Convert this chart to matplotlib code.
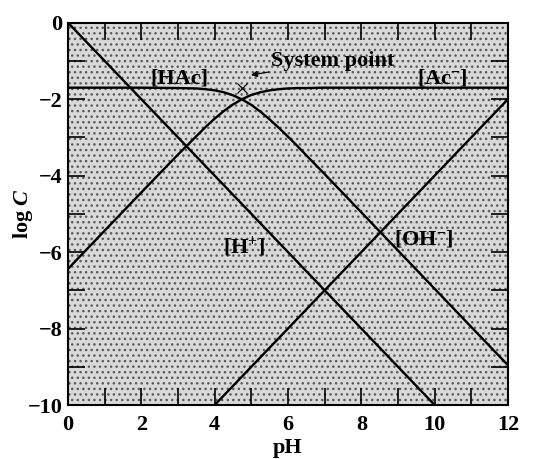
import matplotlib
matplotlib.use("Agg")
import matplotlib.pyplot as plt
from matplotlib.patches import Rectangle

plt.rcParams['font.family'] = ['Liberation Serif', 'DejaVu Serif']
plt.rcParams['font.weight'] = 'bold'
plt.rcParams['mathtext.fontset'] = 'custom'
plt.rcParams['mathtext.rm'] = 'Liberation Serif:bold'
plt.rcParams['mathtext.bf'] = 'Liberation Serif:bold'
plt.rcParams['mathtext.it'] = 'Liberation Serif:italic:bold'

# values
ph_pts = [0, 1, 2, 3, 3.5, 3.75, 4, 4.25, 4.5, 4.75, 5, 5.25, 5.5, 5.75, 6, 6.25, 6.5, 7, 8, 9, 10, 11, 12]
hac_log = [-1.70, -1.70, -1.70, -1.71, -1.72, -1.74, -1.77, -1.82, -1.90, -2.01, -2.15, -2.33, -2.53,
           -2.75, -2.98, -3.22, -3.47, -3.96, -4.96, -5.96, -6.96, -7.96, -8.96]
ac_log = [-6.44, -5.44, -4.44, -3.45, -2.97, -2.73, -2.51, -2.31, -2.14, -2.00, -1.89, -1.82, -1.77,
          -1.74, -1.72, -1.71, -1.71, -1.70, -1.70, -1.70, -1.70, -1.70, -1.70]
h_ph, h_log = [0, 10], [0, -10]
oh_ph, oh_log = [4, 12], [-10, -2]
sys_ph, sys_log = 4.74, -1.70

fig = plt.figure(figsize=(5.34, 4.59), dpi=100)
ax = fig.add_axes([0.1273, 0.1176, 0.824, 0.833])

# stippled grey background
ax.set_facecolor('#d9d9d9')
ax.add_patch(Rectangle((0, -10), 12, 10, facecolor='none', edgecolor='#5a5a5a',
                       hatch='...', linewidth=0, zorder=0))

lw = 1.7
ax.plot(ph_pts, hac_log, color='black', lw=lw)
ax.plot(ph_pts, ac_log, color='black', lw=lw)
ax.plot(h_ph, h_log, color='black', lw=lw)
ax.plot(oh_ph, oh_log, color='black', lw=lw)
ax.plot([sys_ph], [sys_log], marker='x', color='black', ms=7, mew=0.9)

fs = 16
ax.annotate('System point', xy=(4.99, -1.37), xytext=(5.55, -1.0),
            fontsize=fs, fontweight='bold', ha='left', va='center',
            arrowprops=dict(arrowstyle='-|>', color='black', lw=0.9,
                            mutation_scale=9, shrinkA=0, shrinkB=0))
ax.text(3.05, -1.45, '[HAc]', fontsize=fs, ha='center', va='center')
ax.text(10.2, -1.45, r'[Ac$^{-}$]', fontsize=fs, ha='center', va='center')
ax.text(4.8, -5.85, r'[H$^{+}$]', fontsize=fs, ha='center', va='center')
ax.text(9.7, -5.65, r'[OH$^{-}$]', fontsize=fs, ha='center', va='center')

ax.set_xlim(0, 12)
ax.set_ylim(-10, 0)
ax.set_xticks(range(0, 13, 2))
ax.set_xticks(range(1, 12, 2), minor=True)
ax.set_yticks(range(-10, 1, 2))
ax.set_yticks(range(-9, 0, 2), minor=True)
ax.tick_params(which='both', direction='in', top=True, right=True,
               length=12, width=1.2, labelsize=fs)
ax.tick_params(axis='x', pad=7)
ax.tick_params(axis='y', pad=4)
for s in ax.spines.values():
    s.set_linewidth(1.5)

ax.set_xlabel('pH', fontsize=fs, fontweight='bold', labelpad=2)
ax.set_ylabel(r'log $\mathit{C}$', fontsize=fs, fontweight='bold')
ax.yaxis.set_label_coords(-0.075, 0.5)

fig.savefig('out.png', dpi=100)
